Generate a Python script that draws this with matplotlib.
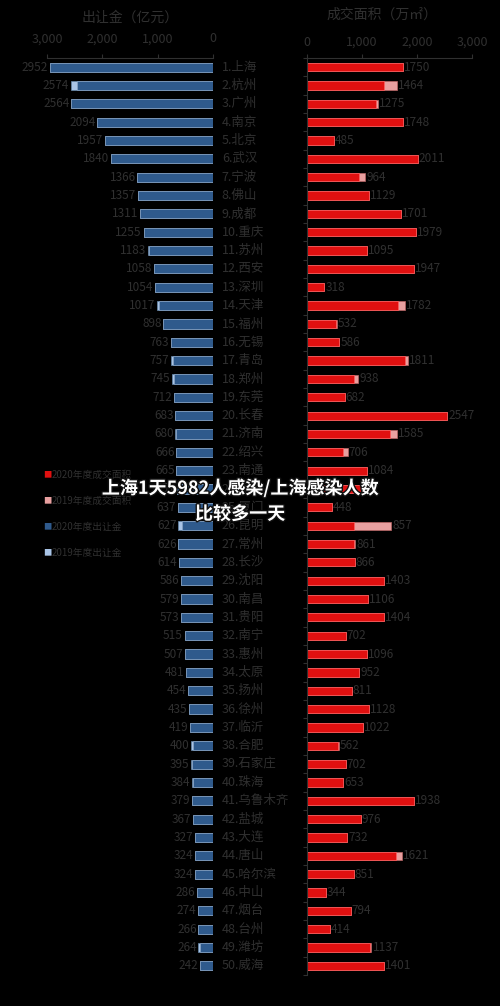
import matplotlib.pyplot as plt
import matplotlib.patheffects as pe
import numpy as np

plt.rcParams['font.family'] = ['Noto Sans CJK SC', 'DejaVu Sans']

cities = ["上海", "杭州", "广州", "南京", "北京", "武汉", "宁波", "佛山", "成都", "重庆",
          "苏州", "西安", "深圳", "天津", "福州", "无锡", "青岛", "郑州", "东莞", "长春",
          "济南", "绍兴", "南通", "温州", "厦门", "昆明", "常州", "长沙", "沈阳", "南昌",
          "贵阳", "南宁", "惠州", "太原", "扬州", "徐州", "临沂", "合肥", "石家庄", "珠海",
          "乌鲁木齐", "盐城", "大连", "唐山", "哈尔滨", "中山", "烟台", "台州", "潍坊", "威海"]
money_2020 = [2952, 2460, 2564, 2094, 1957, 1840, 1366, 1357, 1311, 1255,
              1150, 1058, 1054, 980, 898, 763, 720, 700, 712, 683,
              660, 666, 665, 651, 637, 560, 626, 614, 586, 579,
              573, 515, 507, 481, 454, 435, 419, 360, 380, 360,
              379, 367, 327, 324, 324, 286, 274, 266, 240, 242]
money_2019 = [2952, 2574, 2564, 2094, 1957, 1840, 1366, 1357, 1311, 1255,
              1183, 1058, 1054, 1017, 898, 763, 757, 745, 712, 683,
              680, 666, 665, 651, 637, 627, 626, 614, 586, 579,
              573, 515, 507, 481, 454, 435, 419, 400, 395, 384,
              379, 367, 327, 324, 324, 286, 274, 266, 264, 242]
area_2020 = [1750, 1400, 1260, 1748, 485, 2011, 950, 1129, 1701, 1979,
             1095, 1947, 318, 1650, 532, 586, 1780, 850, 682, 2547,
             1500, 650, 1084, 1000, 448, 857, 861, 866, 1403, 1106,
             1404, 702, 1096, 952, 811, 1128, 1022, 562, 702, 653,
             1938, 976, 732, 1621, 851, 344, 794, 414, 1137, 1401]
area_2019 = [1750, 1630, 1290, 1748, 485, 2011, 1060, 1129, 1701, 1979,
             1095, 1947, 318, 1780, 540, 586, 1840, 930, 682, 2547,
             1640, 740, 1084, 1000, 448, 1530, 880, 866, 1403, 1106,
             1404, 702, 1096, 952, 811, 1128, 1022, 580, 702, 653,
             1938, 976, 732, 1720, 851, 344, 794, 414, 1170, 1401]
area_labels = [1750, 1464, 1275, 1748, 485, 2011, 964, 1129, 1701, 1979,
               1095, 1947, 318, 1782, 532, 586, 1811, 938, 682, 2547,
               1585, 706, 1084, None, 448, 857, 861, 866, 1403, 1106,
               1404, 702, 1096, 952, 811, 1128, 1022, 562, 702, 653,
               1938, 976, 732, 1621, 851, 344, 794, 414, 1137, 1401]

gray = "#303030"
n = len(cities)
y = np.arange(n)

fig = plt.figure(figsize=(5, 10.06), dpi=100, facecolor="black")
bot, h = 1 - 975 / 1006, (975 - 58) / 1006

axl = fig.add_axes([47 / 500, bot, (213 - 47) / 500, h], facecolor="black")
axl.barh(y, money_2019, height=0.5, color="#a9c4e6", edgecolor="#6688aa", lw=0.5)
axl.barh(y, money_2020, height=0.5, color="#2f5a8c", edgecolor="#8aa4c4", lw=0.5)
axl.set_xlim(3000, 0)
axl.set_ylim(n - 0.5, -0.5)
for i, v in enumerate(money_2019):
    axl.text(v + 30, i, str(v), ha="right", va="center", color=gray, fontsize=8.5)
    axl.text(-160, i, f"{i + 1}.{cities[i]}", ha="left", va="center", color=gray, fontsize=9)
axl.xaxis.tick_top()
axl.set_xticks([3000, 2000, 1000, 0])
axl.set_xticklabels(["3,000", "2,000", "1,000", "0"])
axl.tick_params(axis="x", colors=gray, labelsize=9, length=3, pad=6)
axl.set_yticks([])
for s in ["left", "right", "bottom"]:
    axl.spines[s].set_visible(False)
axl.spines["top"].set_color(gray)

axr = fig.add_axes([307 / 500, bot, (472 - 307) / 500, h], facecolor="black")
axr.barh(y, area_2019, height=0.45, color="#e8a0a0", edgecolor="#bb6666", lw=0.5)
axr.barh(y, area_2020, height=0.45, color="#e01010", edgecolor="#ff6060", lw=0.5)
axr.set_xlim(0, 3000)
axr.set_ylim(n - 0.5, -0.5)
for i, v in enumerate(area_labels):
    if v is not None:
        axr.text(area_2019[i] + 20, i, str(v), ha="left", va="center", color=gray, fontsize=8.5)
axr.xaxis.tick_top()
axr.set_xticks([0, 1000, 2000, 3000])
axr.set_xticklabels(["0", "1,000", "2,000", "3,000"])
axr.tick_params(axis="x", colors=gray, labelsize=9, length=3)
axr.set_yticks(np.arange(n + 1) - 0.5)
axr.set_yticklabels([])
axr.tick_params(axis="y", colors=gray, length=3)
for s in ["right", "bottom"]:
    axr.spines[s].set_visible(False)
axr.spines["top"].set_color(gray)
axr.spines["left"].set_color(gray)

fig.text(130 / 500, 1 - 18 / 1006, "出让金（亿元）", color=gray, fontsize=10, ha="center", va="center")
fig.text(382 / 500, 1 - 15 / 1006, "成交面积（万㎡）", color=gray, fontsize=10, ha="center", va="center")

legend_items = [("2020年度成交面积", "#e01010"), ("2019年度成交面积", "#e8a0a0"),
                ("2020年度出让金", "#2f5a8c"), ("2019年度出让金", "#a9c4e6")]
for k, (lab, col) in enumerate(legend_items):
    yy = 1 - (475 + k * 26) / 1006
    fig.text(43 / 500, yy, "■", color=col, fontsize=6, va="center")
    fig.text(52 / 500, yy, lab, color=gray, fontsize=7, va="center")

stroke = [pe.withStroke(linewidth=2, foreground="#111111")]
fig.text(0.48, 1 - 488 / 1006, "上海1天5982人感染/上海感染人数", color="white",
         fontsize=13, fontweight="bold", ha="center", va="center", path_effects=stroke)
fig.text(0.48, 1 - 514 / 1006, "比较多一天", color="white",
         fontsize=13, fontweight="bold", ha="center", va="center", path_effects=stroke)

fig.savefig("out.png", dpi=100, facecolor="black")
